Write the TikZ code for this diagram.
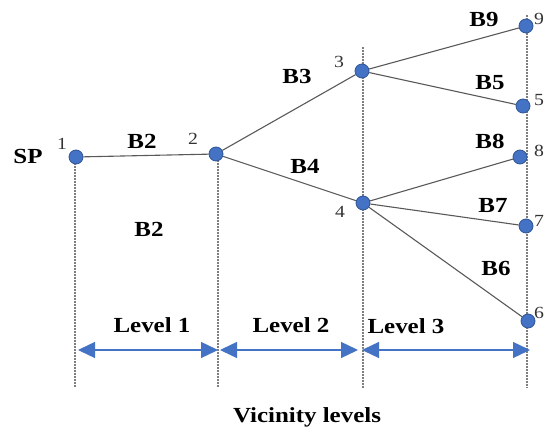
\documentclass[tikz,border=0pt]{standalone}
\usepackage{fontspec}
\setmainfont{Liberation Serif}[FakeStretch=1.16]
\usetikzlibrary{arrows.meta}
\definecolor{nodeblue}{HTML}{4472C4}
\definecolor{nodeedge}{HTML}{2F5597}
\definecolor{linegray}{HTML}{595959}
\definecolor{dotgray}{HTML}{7F7F7F}
\definecolor{numgray}{HTML}{333333}
\tikzset{
  pt/.style={circle,fill=nodeblue,draw=nodeedge,line width=0.8pt,inner sep=0pt,minimum size=14pt},
  edge/.style={draw=linegray,line width=1.1pt},
  vline/.style={draw=dotgray,line width=1.3pt,dash pattern=on 0.8pt off 0.7pt},
  lvl/.style={draw=nodeblue,line width=1.4pt,{Triangle[length=17pt,width=16pt]}-{Triangle[length=17pt,width=16pt]}},
  blab/.style={font=\bfseries\fontsize{21.5}{23}\selectfont,inner sep=0pt},
  nlab/.style={font=\fontsize{17}{18}\selectfont,text=numgray,inner sep=0pt},
}
\begin{document}
\begin{tikzpicture}[x=1pt,y=-1pt]
\useasboundingbox (0,0) rectangle (546,430);
% vertical dotted lines
\coordinate (v1t) at (75,160); \coordinate (v1b) at (75,387);
\coordinate (v2t) at (218,157); \coordinate (v2b) at (218,387);
\coordinate (v3t) at (363,47); \coordinate (v3b) at (363,388);
\coordinate (v4t) at (527,15); \coordinate (v4b) at (527,388);
\draw[vline] (v1t) -- (v1b);
\draw[vline] (v2t) -- (v2b);
\draw[vline] (v3t) -- (v3b);
\draw[vline] (v4t) -- (v4b);
% nodes
\node[pt] (n1) at (76,157) {};
\node[pt] (n2) at (216,154) {};
\node[pt] (n3) at (362,71) {};
\node[pt] (n4) at (363,203) {};
\node[pt] (n9) at (526,26) {};
\node[pt] (n5) at (523,106) {};
\node[pt] (n8) at (520,157) {};
\node[pt] (n7) at (526,226) {};
\node[pt] (n6) at (528,321) {};
% edges
\draw[edge] (n1) -- (n2);
\draw[edge] (n2) -- (n3);
\draw[edge] (n2) -- (n4);
\draw[edge] (n3) -- (n9);
\draw[edge] (n3) -- (n5);
\draw[edge] (n4) -- (n8);
\draw[edge] (n4) -- (n7);
\draw[edge] (n4) -- (n6);
% level arrows
\coordinate (a1) at (78,350); \coordinate (a2) at (218,350);
\coordinate (a3) at (220,350); \coordinate (a4) at (358,350);
\coordinate (a5) at (362,350); \coordinate (a6) at (530,350);
\draw[lvl] (a1) -- (a2);
\draw[lvl] (a3) -- (a4);
\draw[lvl] (a5) -- (a6);
% branch labels
\node[blab] (sp) at (28,156) {SP};
\node[blab] (lb2a) at (142,141) {B2};
\node[blab] (lb2b) at (149,229) {B2};
\node[blab] (lb3) at (297,76) {B3};
\node[blab] (lb4) at (305,166) {B4};
\node[blab] (lb9) at (484,19) {B9};
\node[blab] (lb5) at (490,83) {B5};
\node[blab] (lb8) at (490,141) {B8};
\node[blab] (lb7) at (493,205) {B7};
\node[blab] (lb6) at (496,268) {B6};
% node numbers
\node[nlab] (t1) at (62,144) {1};
\node[nlab] (t2) at (193,139) {2};
\node[nlab] (t3) at (339,62) {3};
\node[nlab] (t4) at (340,212) {4};
\node[nlab] (t9) at (539,19) {9};
\node[nlab] (t5) at (539,100) {5};
\node[nlab] (t8) at (539,151) {8};
\node[nlab] (t7) at (539,221) {7};
\node[nlab] (t6) at (539,313) {6};
% level labels
\node[blab] (l1) at (152,325) {Level 1};
\node[blab] (l2) at (291,325) {Level 2};
\node[blab] (l3) at (406,326) {Level 3};
\node[blab,anchor=base] (vl) at (307,422) {Vicinity levels};
\end{tikzpicture}
\end{document}
